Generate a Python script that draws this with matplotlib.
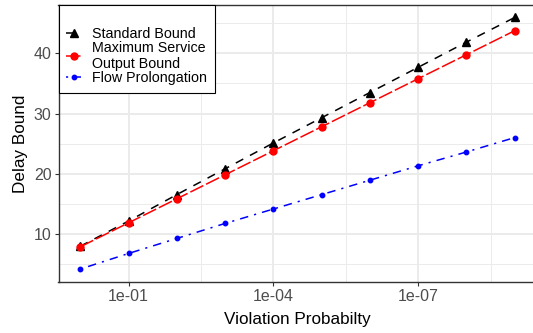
import matplotlib
matplotlib.use("Agg")
import matplotlib.pyplot as plt
import numpy as np

plt.rcParams['font.family'] = ['Liberation Sans', 'DejaVu Sans']

# Data
violation_prob = [1e0, 1e-1, 1e-2, 1e-3, 1e-4, 1e-5, 1e-6, 1e-7, 1e-8, 1e-9]
standard_bound = [7.9, 12.1, 16.5, 20.8, 25.1, 29.3, 33.5, 37.7, 41.9, 46.0]
max_service_bound = [7.8, 11.8, 15.8, 19.8, 23.8, 27.8, 31.8, 35.8, 39.8, 43.8]
flow_prolongation = [4.1, 6.7, 9.2, 11.7, 14.1, 16.5, 18.9, 21.3, 23.6, 26.0]
x_tick_values = [1e-1, 1e-4, 1e-7]
x_tick_labels = ["1e-01", "1e-04", "1e-07"]
y_tick_values = [10, 20, 30, 40]

W, H = 533, 333
dpi = 100
fig = plt.figure(figsize=(W / dpi, H / dpi), dpi=dpi)
left, right, bottom, top = 58.5, 536.5, 282.3, 5.0
ax = fig.add_axes([left / W, 1 - bottom / H, (right - left) / W, (bottom - top) / H])

ax.set_xscale('log')
ax.set_xlim(10 ** 0.45, 10 ** -9.45)
ax.set_ylim(1.9, 48.07)

# grid
grid_col = '#EBEBEB'
for v in [10 ** -2.5, 10 ** -5.5, 10 ** -8.5]:
    ax.axvline(v, color=grid_col, lw=0.7, zorder=0)
for v in [5, 15, 25, 35, 45]:
    ax.axhline(v, color=grid_col, lw=0.7, zorder=0)
for v in x_tick_values:
    ax.axvline(v, color=grid_col, lw=1.4, zorder=0)
for v in y_tick_values:
    ax.axhline(v, color=grid_col, lw=1.4, zorder=0)

l1, = ax.plot(violation_prob, standard_bound, color='black', lw=1.1, marker='^', ms=5.5,
              label='Standard Bound', zorder=3)
l1.set_dashes([5.5, 5.0])
l2, = ax.plot(violation_prob, max_service_bound, color='red', lw=1.1, marker='o', ms=5.0,
              label='Maximum Service\nOutput Bound', zorder=4)
l2.set_dashes([9.5, 2.0])
l3, = ax.plot(violation_prob, flow_prolongation, color='blue', lw=1.1, marker='o', ms=3.2,
              label='Flow Prolongation', zorder=3)
l3.set_dashes([1.4, 4.0, 5.5, 4.0])

ax.xaxis.set_major_locator(matplotlib.ticker.FixedLocator(x_tick_values))
ax.xaxis.set_minor_locator(matplotlib.ticker.NullLocator())
ax.set_xticklabels(x_tick_labels)
ax.set_yticks(y_tick_values)
ax.yaxis.set_minor_locator(matplotlib.ticker.NullLocator())

ax.tick_params(axis='both', which='major', length=3, width=0.8, color='#333333',
               labelcolor='#4D4D4D', labelsize=11.5, pad=2)
for s in ax.spines.values():
    s.set_color('#333333')
    s.set_linewidth(1.0)

ax.set_xlabel('Violation Probabilty', fontsize=12.3, color='black', labelpad=5.5)
ax.set_ylabel('Delay Bound', fontsize=12.3, color='black', labelpad=4)

leg = ax.legend(loc='upper left', bbox_to_anchor=(0, 1), borderaxespad=0, fancybox=False,
                edgecolor='black', framealpha=1, fontsize=10.3, handlelength=1.0,
                handletextpad=0.8, labelspacing=0.0, borderpad=0.55, title=' ',
                title_fontsize=10.5)
leg.get_frame().set_linewidth(0.8)

fig.savefig('out.png', dpi=dpi)
